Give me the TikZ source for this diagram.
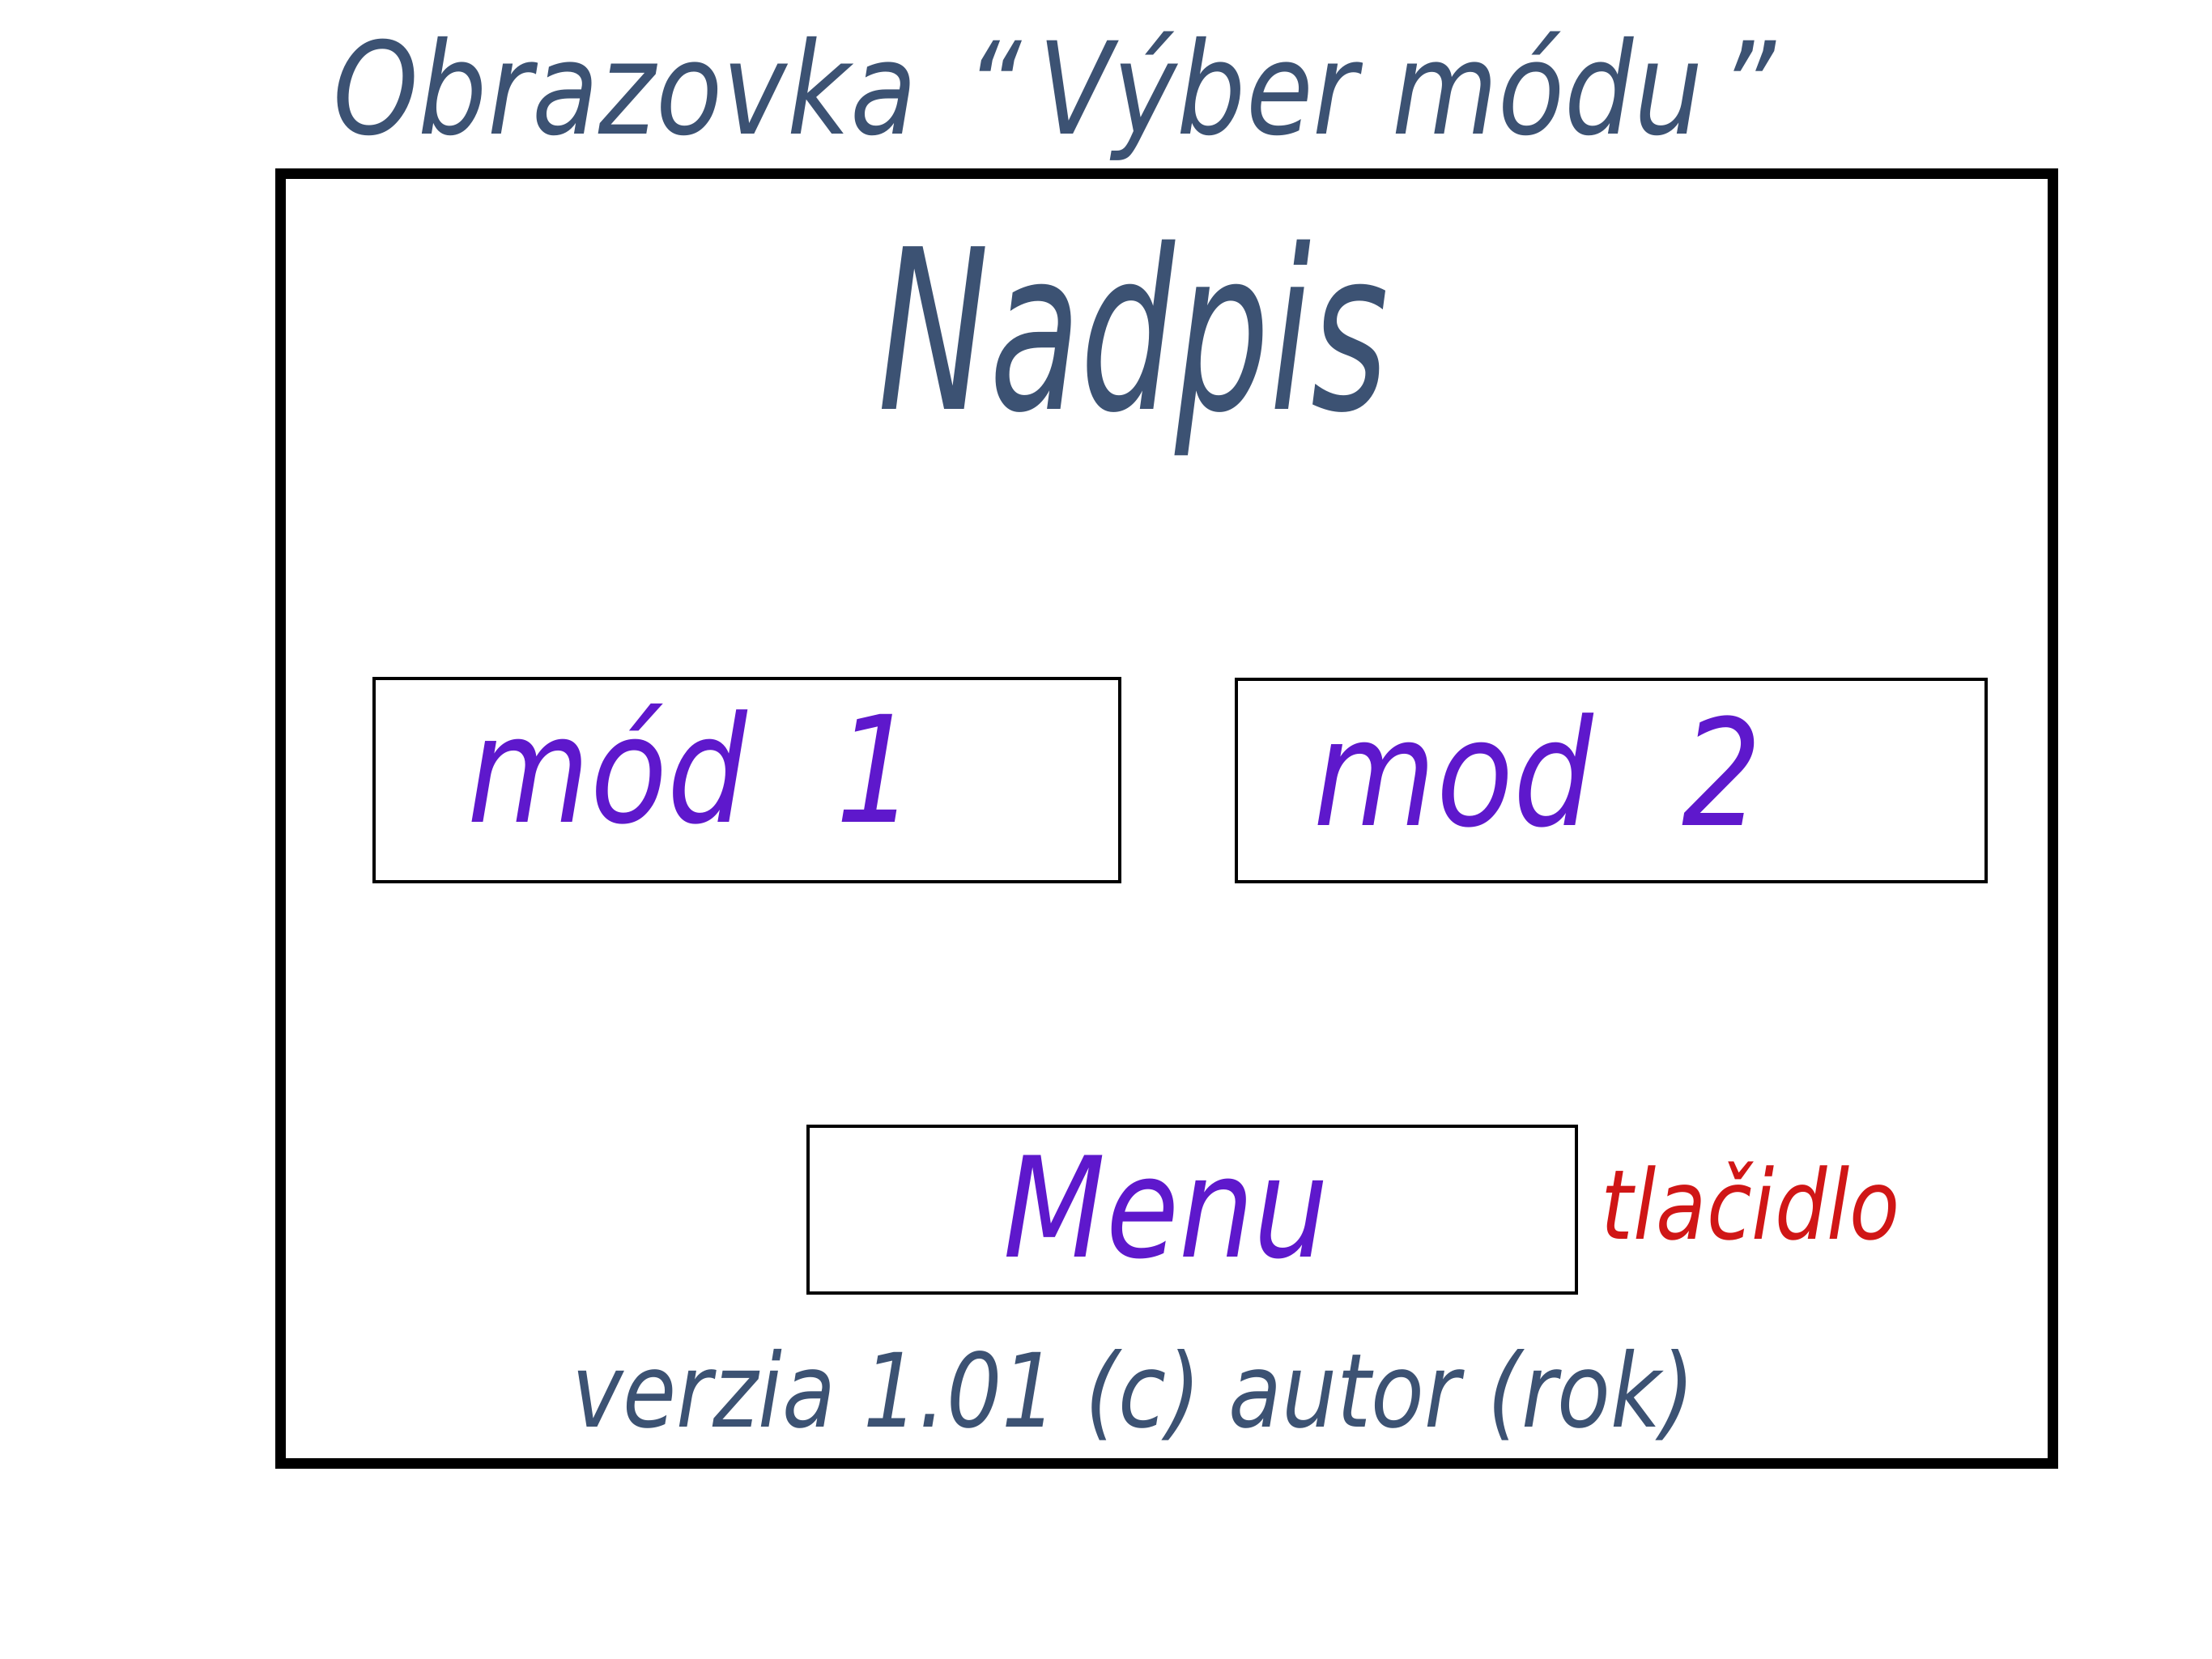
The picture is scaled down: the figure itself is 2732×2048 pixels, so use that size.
\documentclass[tikz,border=0pt]{standalone}
\usepackage{fontspec}
\newfontfamily\handfont{DejaVu Sans}[FakeStretch=0.85]
\definecolor{slateink}{RGB}{60,82,115}
\definecolor{purpleink}{RGB}{94,24,204}
\definecolor{redink}{RGB}{208,22,22}
\tikzset{
  button/.style={draw, line width=1.1pt, inner sep=0pt, anchor=north west},
  slatetext/.style={inner sep=0pt, text=slateink, font=\handfont\itshape},
  purpletext/.style={inner sep=0pt, text=purpleink, font=\handfont\itshape\fontsize{52}{62}\selectfont},
  redtext/.style={inner sep=0pt, text=redink, font=\handfont\itshape\fontsize{34}{41}\selectfont}
}
\begin{document}
\begin{tikzpicture}[x=0.1mm, y=-0.1mm]
\useasboundingbox (0,0) rectangle (2732,2048);

\node[slatetext, anchor=base, font=\handfont\itshape\fontsize{45}{54}\selectfont] (Title) at (1302,166) {Obrazovka\hspace{6mm}“\hspace{2mm}Výber módu\hspace{2mm}”};

% screen
\draw[line width=3.7pt] (346,215) rectangle (2535,1807);
\node[slatetext, anchor=base, font=\handfont\itshape\fontsize{70}{84}\selectfont] (Heading) at (1400,505) {\scalebox{0.88}[1.12]{Nadpis}};

\node[button, minimum width=92.1mm, minimum height=25.1mm] (Mod 1) at (460,836) {};
\node[purpletext, anchor=base west] (Mod 1 label) at (577,1015) {mód\hspace{11mm}1};

\node[button, minimum width=92.6mm, minimum height=25mm] (Mod 2) at (1525,837) {};
\node[purpletext, anchor=base west] (Mod 2 label) at (1622,1019) {mod\hspace{11mm}2};

\node[button, minimum width=94.9mm, minimum height=20.6mm] (Menu) at (996,1389) {};
\node[purpletext, anchor=base west, font=\handfont\itshape\fontsize{49}{59}\selectfont] (Menu label) at (1239,1552) {Menu};
\node[redtext, anchor=base west] (Button note) at (1977,1530) {tlačidlo};

\node[slatetext, anchor=base, font=\handfont\itshape\fontsize{36}{43}\selectfont] (Footer) at (1400,1762) {verzia 1.01 (c) autor (rok)};
\end{tikzpicture}
\end{document}
